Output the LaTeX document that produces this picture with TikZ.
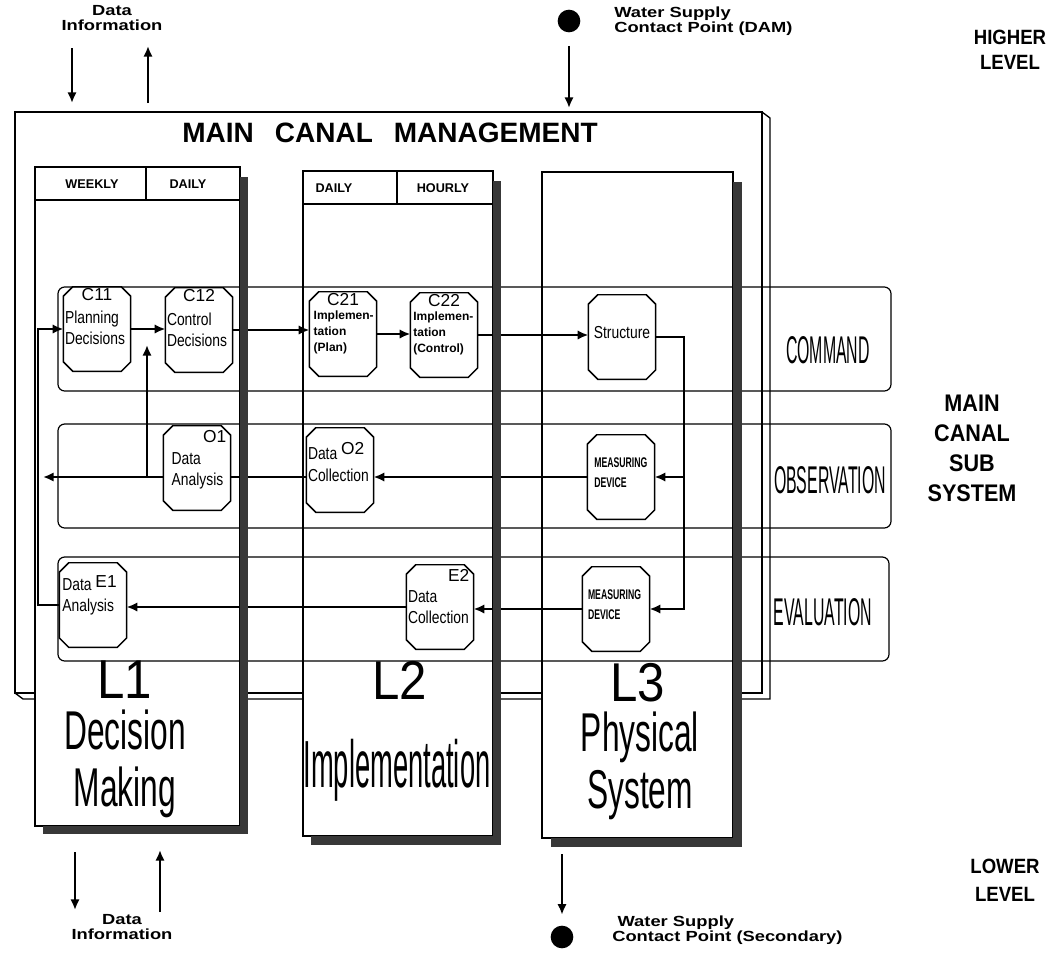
\documentclass[tikz,border=0pt]{standalone}
\usepackage{fontspec}
\setmainfont{Liberation Sans}
\newfontfamily\widefont[FakeStretch=1.25]{Liberation Sans}
\newfontfamily\bandfont[FakeStretch=0.41]{Liberation Sans}
\newfontfamily\colfont[FakeStretch=0.58]{Liberation Sans}
\newfontfamily\levfont[FakeStretch=0.9]{Liberation Sans}
\newfontfamily\boxfont[FakeStretch=0.8]{Liberation Sans}
\newfontfamily\mdfont[FakeStretch=0.62]{Liberation Sans}
\usetikzlibrary{arrows.meta}

\tikzset{
  unit/.style={rectangle,inner sep=0pt,minimum width=50pt,minimum height=63pt},
  flow/.style={line width=2pt,-{Latex[length=8pt,width=7pt]}},
  feed/.style={line width=2pt,-{Latex[length=8pt,width=7pt]}},
  band/.style={draw,line width=0.9pt,rounded corners=5pt},
  col/.style={draw,fill=white,line width=1pt},
  shade/.style={fill=black!78},
  btxt/.style={font=\boxfont\fontsize{13}{16}\selectfont,align=left,inner sep=0pt},
  imtxt/.style={font=\bfseries\fontsize{9}{12}\selectfont,align=left,inner sep=0pt},
  mdtxt/.style={font=\mdfont\bfseries\fontsize{10.5}{15}\selectfont,align=left,inner sep=0pt},
  idl/.style={font=\fontsize{13}{13}\selectfont,inner sep=0pt},
  hdr/.style={font=\bfseries\fontsize{9.5}{10}\selectfont,inner sep=0pt},
  side/.style={font=\levfont\bfseries\fontsize{15.5}{19}\selectfont,align=center,inner sep=0pt},
  note/.style={font=\widefont\bfseries\fontsize{11}{11}\selectfont,inner sep=0pt},
  bandlbl/.style={font=\bandfont\fontsize{29}{30}\selectfont,inner sep=0pt},
}
% octagonal outline round a unit node
\newcommand{\octbox}[1]{%
  \draw[line width=1.1pt] ([xshift=7pt]#1.north west) -- ([xshift=-7pt]#1.north east)
    -- ([yshift=-7pt]#1.north east) -- ([yshift=7pt]#1.south east)
    -- ([xshift=-7pt]#1.south east) -- ([xshift=7pt]#1.south west)
    -- ([yshift=7pt]#1.south west) -- ([yshift=-7pt]#1.north west) -- cycle;}

\begin{document}
\begin{tikzpicture}[x=0.75pt,y=-0.75pt]
\useasboundingbox (0,0) rectangle (1050,953);

% main canal management (3D slab)
\draw[line width=1pt] (15,112) rectangle (762,693);
\draw[line width=1pt] (762,112) -- (770,118) -- (770,699) -- (23,699) -- (15,693);
\node[font=\bfseries\fontsize{21}{22}\selectfont] (mcm) at (390,133) {MAIN\hspace{0.75em}CANAL\hspace{0.75em}MANAGEMENT};

% levels (columns)
\draw[col] (35,167) rectangle (240,826);
\draw[line width=1pt] (35,200) -- (240,200) (146,167) -- (146,200);
\draw[col] (303,171) rectangle (493,836);
\draw[line width=1pt] (303,204) -- (493,204) (397,171) -- (397,204);
\draw[col] (542,172) rectangle (733,838);

\node[hdr] (wk) at (92,184) {WEEKLY};
\node[hdr] (dy1) at (188,184) {DAILY};
\node[hdr] (dy2) at (334,188) {DAILY};
\node[hdr] (hr) at (443,188) {HOURLY};

% sub system bands
\draw[band] (58,287) rectangle (891,391);
\draw[band] (58,424) rectangle (891,528);
\draw[band] (58,557) rectangle (889,661);
\node[bandlbl] (cmd) at (828,350) {COMMAND};
\node[bandlbl] (obs) at (830,480) {OBSERVATION};
\node[bandlbl] (evl) at (823,612) {EVALUATION};

% command row
\node[unit] (c11) at (97,329) {};
\node[unit] (c12) at (199,330) {};
\node[unit] (c21) at (343,334) {};
\node[unit] (c22) at (444,335) {};
\node[unit] (st) at (622,337) {};
\node[idl,anchor=north] (c11i) at ([yshift=-1pt]c11.north) {C11};
\node[idl,anchor=north] (c12i) at ([yshift=-1pt]c12.north) {C12};
\node[idl,anchor=north] (c21i) at ([yshift=-1pt]c21.north) {C21};
\node[idl,anchor=north] (c22i) at ([yshift=-1pt]c22.north) {C22};
\node[btxt,anchor=west] (c11t) at ([xshift=1pt,yshift=1pt]c11.west) {Planning\\Decisions};
\node[btxt,anchor=west] (c12t) at ([xshift=1pt]c12.west) {Control\\Decisions};
\node[imtxt,anchor=west] (c21t) at ([xshift=3pt,yshift=1pt]c21.west) {Implemen-\\tation\\(Plan)};
\node[imtxt,anchor=west] (c22t) at ([xshift=2pt,yshift=1pt]c22.west) {Implemen-\\tation\\(Control)};
\node[btxt] (stt) at ([yshift=3pt]st.center) {Structure};

% observation row
\node[unit] (o1) at (197,468) {};
\node[unit] (o2) at (340,470) {};
\node[unit] (md1) at (621,477) {};
\node[idl,anchor=north east] (o1i) at ([xshift=-3pt,yshift=-3pt]o1.north east) {O1};
\node[btxt,anchor=west] (o1t) at ([xshift=6pt,yshift=-2pt]o1.west) {Data\\Analysis};
\node[btxt,anchor=west] (o2t) at ([xshift=1pt,yshift=6pt]o2.west) {Data {\normalfont\fontsize{13}{13}\selectfont\raisebox{4pt}{O2}}\\Collection};
\node[mdtxt,anchor=west] (md1t) at ([xshift=5pt,yshift=3pt]md1.west) {MEASURING\\DEVICE};

% evaluation row
\node[unit] (e1) at (93,605) {};
\node[unit] (e2) at (440,607) {};
\node[unit] (md2) at (616,609) {};
\node[idl,anchor=north east] (e2i) at ([xshift=-3pt,yshift=-3pt]e2.north east) {E2};
\node[btxt,anchor=west] (e1t) at ([xshift=2pt,yshift=7pt]e1.west) {Data {\normalfont\fontsize{13}{13}\selectfont\raisebox{2pt}{E1}}\\Analysis};
\node[btxt,anchor=west] (e2t) at ([xshift=1pt,yshift=0pt]e2.west) {Data\\Collection};
\node[mdtxt,anchor=west] (md2t) at ([xshift=4pt,yshift=3pt]md2.west) {MEASURING\\DEVICE};

\foreach \b in {c11,c12,c21,c22,st,o1,o2,md1,e1,e2,md2} {\octbox{\b}}

% flows
\coordinate (lp) at (38,470);
\coordinate (olft) at (43,477);
\coordinate (jn) at (147,477);
\coordinate (jup) at (147,345);
\coordinate (rdn) at (684,609);
\draw[flow] (e1.west) -| (lp) |- (c11.west);
\draw[flow] (c11.east) -- (c11.east -| c12.west);
\draw[flow] (o1.west |- olft) -- (olft);
\draw[flow] (jn) -- (jup);
\draw[line width=2pt] (o2.west |- olft) -- (o1.east |- olft);
\draw[flow] (c12.east) -- (c12.east -| c21.west);
\draw[flow] (c21.east) -- (c21.east -| c22.west);
\draw[flow] (c22.east) -- (c22.east -| st.west);
\draw[flow] (st.east) -| (rdn) -- (md2.east);
\draw[flow] (rdn |- md1.east) -- (md1.east);
\draw[flow] (md1.west) -- (md1.west -| o2.east);
\draw[flow] (md2.west) -- (md2.west -| e2.east);
\draw[flow] (e2.west) -- (e2.west -| e1.east);

% column shadows
\fill[shade] (240,177) rectangle (248,834);
\fill[shade] (43,826) rectangle (248,834);
\fill[shade] (493,181) rectangle (501,845);
\fill[shade] (311,836) rectangle (501,845);
\fill[shade] (733,182) rectangle (742,847);
\fill[shade] (551,838) rectangle (742,847);

% level names
\node[font=\levfont\fontsize{41}{41}\selectfont] (l1) at (125,680) {L1};
\node[font=\colfont\fontsize{41}{41}\selectfont,align=center] (l1n) at (125,764) {Decision\\[2pt]Making};
\node[font=\levfont\fontsize{41}{41}\selectfont] (l2) at (400,680) {L2};
\node[font=\bandfont\fontsize{50}{50}\selectfont] (l2n) at (397,770) {Implementation};
\node[font=\levfont\fontsize{41}{41}\selectfont] (l3) at (638,683) {L3};
\node[font=\colfont\fontsize{41}{41}\selectfont,align=center] (l3n) at (640,766) {Physical\\[2pt]System};

% higher level links
\node[note,align=center] (dti) at (112,18) {Data\\Information};
\coordinate (ta) at (72,48);
\coordinate (tb) at (72,103);
\coordinate (tc) at (148,103);
\coordinate (td) at (148,46);
\draw[feed] (ta) -- (tb);
\draw[feed] (tc) -- (td);
\node[circle,fill=black,minimum size=17pt,inner sep=0pt] (dam) at (569,21) {};
\coordinate (damin) at (569,108);
\draw[feed] ([yshift=-10pt]dam.south) -- (damin);
\node[note,align=left,anchor=west] (damt) at (614,21) {Water Supply\\Contact Point (DAM)};
\node[side] (hi) at (1010,50) {HIGHER\\LEVEL};
\node[side,font=\levfont\bfseries\fontsize{18}{22.5}\selectfont] (mcs) at (972,448) {MAIN\\CANAL\\SUB\\SYSTEM};

% lower level links
\coordinate (ba) at (75,852);
\coordinate (bb) at (75,910);
\coordinate (bc) at (160,912);
\coordinate (bd) at (160,850);
\draw[feed] (ba) -- (bb);
\draw[feed] (bc) -- (bd);
\node[note,align=center] (dbi) at (122,927) {Data\\Information};
\node[circle,fill=black,minimum size=17pt,inner sep=0pt] (sec) at (562,937) {};
\coordinate (secout) at (562,854);
\draw[feed] (secout) -- ([yshift=8pt]sec.north);
\node[note,align=left,anchor=west] (sect) at (612,930) {\hspace{4pt}Water Supply\\Contact Point (Secondary)};
\node[side] (lo) at (1005,880) {LOWER\\[2pt]LEVEL};

\end{tikzpicture}
\end{document}
